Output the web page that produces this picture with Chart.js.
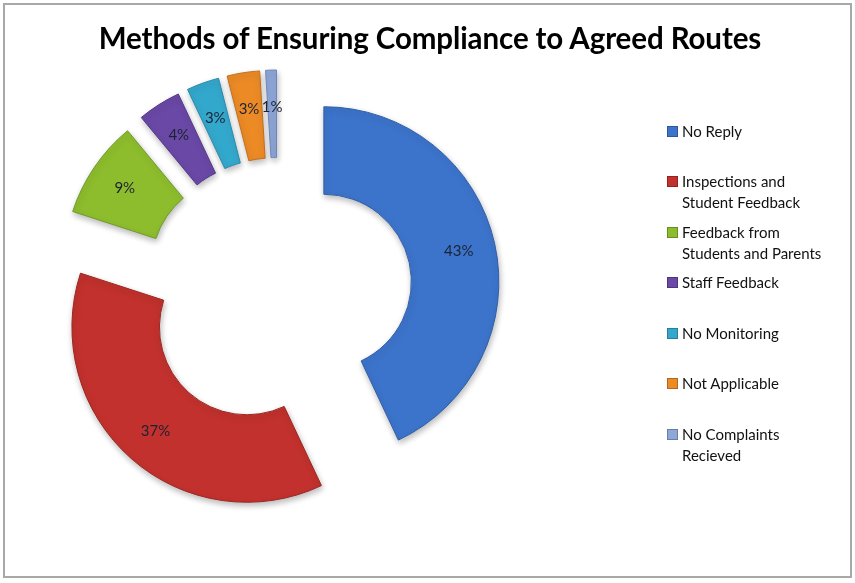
<!DOCTYPE html>
<html lang="en">
<head>
    <meta charset="UTF-8">
    <title>Methods of Ensuring Compliance to Agreed Routes</title>
    <script src="https://cdn.jsdelivr.net/npm/chart.js"></script>
    <style>
        body {
            margin: 0;
            background-color: #fff;
            font-family: Lato, "Open Sans", sans-serif;
        }
        .frame {
            position: absolute;
            left: 3px;
            top: 3px;
            width: 845px;
            height: 571px;
            border: 2px solid #a8a8a8;
        }
        #chart {
            position: absolute;
            left: 0;
            top: 0;
        }
        h1 {
            position: absolute;
            left: 0;
            width: 860px;
            top: 20px;
            margin: 0;
            text-align: center;
            font-size: 29.5px;
            font-weight: 700;
            letter-spacing: -0.1px;
            color: #000;
        }
        .legend {
            position: absolute;
            left: 667px;
            top: 0;
        }
        .legend-item {
            position: absolute;
            left: 0;
            width: 180px;
            font-size: 15px;
            line-height: 21px;
            color: #111;
            padding-left: 15px;
        }
        .legend-item span {
            position: absolute;
            left: 0;
            top: 5px;
            width: 11px;
            height: 11px;
            box-sizing: border-box;
            border: 1px solid rgba(0, 0, 0, 0.25);
        }
    </style>
</head>
<body>
    <div class="frame"></div>
    <canvas id="chart" width="855" height="583"></canvas>
    <h1>Methods of Ensuring Compliance to Agreed Routes</h1>
    <div class="legend" id="legend"></div>
    <script>
        const categories = [
            "No Reply",
            "Inspections and\nStudent Feedback",
            "Feedback from\nStudents and Parents",
            "Staff Feedback",
            "No Monitoring",
            "Not Applicable",
            "No Complaints\nRecieved"
        ];
        const shares = [43, 37, 9, 4, 3, 3, 1];
        const colors = ["#3c74cb", "#c2312d", "#8dbd2d", "#6a48a6", "#33a8cd", "#ec8a26", "#8ea7d9"];
        const edgeColors = ["#2f5ea8", "#9c2522", "#71992a", "#55388a", "#2a8aa9", "#c46f1c", "#6f86b8"];
        const legendTops = [121, 171, 222, 272, 323, 373, 424];

        // how far every slice is pulled out from the centre
        const explode = 47;

        // Chart.js scales its own arc offset (offset/4 plus a radius bump),
        // so push each slice out along its middle angle here instead
        const explodeSlices = {
            id: 'explodeSlices',
            afterDatasetUpdate(chart, args) {
                args.meta.data.forEach(arc => {
                    const mid = (arc.startAngle + arc.endAngle) / 2;
                    arc.x += Math.cos(mid) * explode;
                    arc.y += Math.sin(mid) * explode;
                });
            }
        };

        // percentage text inside each slice
        const sliceLabels = {
            id: 'sliceLabels',
            afterDatasetsDraw(chart) {
                const ctx = chart.ctx;
                const meta = chart.getDatasetMeta(0);
                ctx.save();
                ctx.font = '15px Lato, "Open Sans", sans-serif';
                ctx.fillStyle = '#1c2333';
                ctx.textAlign = 'center';
                ctx.textBaseline = 'middle';
                meta.data.forEach((arc, i) => {
                    const mid = (arc.startAngle + arc.endAngle) / 2;
                    const rad = arc.innerRadius + (arc.outerRadius - arc.innerRadius) * 0.58;
                    ctx.fillText(shares[i] + '%', arc.x + Math.cos(mid) * rad, arc.y + Math.sin(mid) * rad);
                });
                ctx.restore();
            }
        };

        // soft drop shadow under the slices
        const sliceShadow = {
            id: 'sliceShadow',
            beforeDatasetsDraw(chart) {
                const ctx = chart.ctx;
                ctx.save();
                ctx.shadowColor = 'rgba(0, 0, 0, 0.28)';
                ctx.shadowBlur = 6;
                ctx.shadowOffsetX = 1;
                ctx.shadowOffsetY = 3;
            },
            afterDatasetsDraw(chart) {
                chart.ctx.restore();
            }
        };

        new Chart(document.getElementById('chart'), {
            type: 'doughnut',
            data: {
                labels: categories,
                datasets: [{
                    data: shares,
                    backgroundColor: colors,
                    borderColor: edgeColors,
                    borderWidth: 1,
                    offset: 0,
                    hoverOffset: 0
                }]
            },
            options: {
                responsive: false,
                animation: false,
                events: [],
                radius: 175,
                cutout: '50%',
                layout: {
                    padding: { left: 0, right: 299, top: 1, bottom: 0 }
                },
                plugins: {
                    legend: { display: false },
                    title: { display: false },
                    tooltip: { enabled: false }
                }
            },
            plugins: [explodeSlices, sliceShadow, sliceLabels]
        });

        const legend = document.getElementById('legend');
        categories.forEach((name, i) => {
            const item = document.createElement('div');
            item.className = 'legend-item';
            item.style.top = legendTops[i] + 'px';
            const box = document.createElement('span');
            box.style.background = colors[i];
            item.appendChild(box);
            name.split('\n').forEach((line, j) => {
                if (j > 0) item.appendChild(document.createElement('br'));
                item.appendChild(document.createTextNode(line));
            });
            legend.appendChild(item);
        });
    </script>
</body>
</html>
